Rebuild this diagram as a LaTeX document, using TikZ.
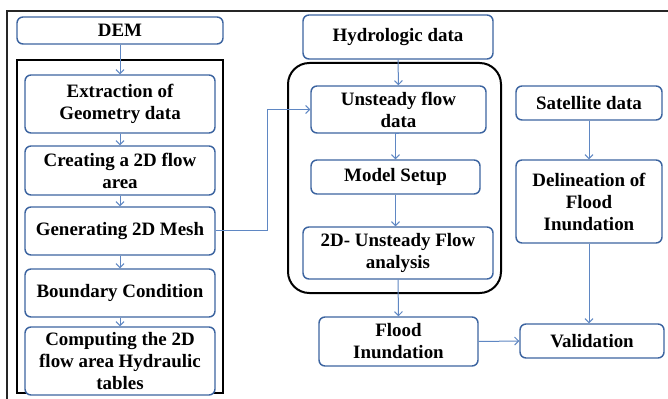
\documentclass[tikz,border=0pt]{standalone}
\usepackage{fontspec}
\setmainfont{Liberation Serif}
\usetikzlibrary{arrows.meta}
\definecolor{boxblue}{RGB}{60,100,160}
\definecolor{arrblue}{RGB}{95,135,195}
\tikzset{
  box/.style={draw=boxblue, line width=1.1pt, rounded corners=4.5pt, fill=white,
    inner sep=0pt, align=center, font=\fontsize{14.2}{16.5}\selectfont\bfseries},
  conn/.style={draw=arrblue, line width=0.75pt, -{Straight Barb[length=3pt,width=6pt]}},
  frame/.style={draw=black, line width=1.5pt}
}
\begin{document}
\begin{tikzpicture}[x=0.75pt,y=-0.75pt]
\useasboundingbox (0,0) rectangle (668,399);
\fill[white] (0,0) rectangle (668,399);
% outer frame
\draw[black!85, line width=1pt] (7,400) -- (7,11) -- (669,11);
% group frames
\draw[frame] (17,60) rectangle (223,393);
\draw[frame, rounded corners=16pt] (288,63) rectangle (501,293);
% left column
\node[box, minimum width=154.5pt, minimum height=20.25pt] (dem) at (120,30.5) {DEM};
\node[box, minimum width=142.5pt, minimum height=43.5pt] (ext) at (120,104) {Extraction of\\Geometry data};
\node[box, minimum width=142.5pt, minimum height=36.75pt] (cre) at (120,170.5) {Creating a 2D flow\\area};
\node[box, minimum width=142.5pt, minimum height=36pt] (gen) at (120,231) {Generating 2D Mesh};
\node[box, minimum width=142.5pt, minimum height=36pt] (bnd) at (120,293) {Boundary Condition};
\node[box, minimum width=142.5pt, minimum height=51pt] (cmp) at (120,361) {Computing the 2D\\flow area Hydraulic\\tables};
% middle column
\node[box, minimum width=142.5pt, minimum height=33pt] (hyd) at (398,37) {Hydrologic data};
\node[box, minimum width=131.25pt, minimum height=35.25pt] (uns) at (398.5,109.5) {Unsteady flow\\data};
\node[box, minimum width=126.75pt, minimum height=25.5pt] (mod) at (395.5,177) {Model Setup};
\node[box, minimum width=142.5pt, minimum height=39pt] (ana) at (398,253) {2D- Unsteady Flow\\analysis};
\node[box, minimum width=119.25pt, minimum height=36.75pt] (fld) at (398.5,341.5) {Flood\\Inundation};
% right column
\node[box, minimum width=109.5pt, minimum height=25.5pt] (sat) at (589,103) {Satellite data};
\node[box, minimum width=109.5pt, minimum height=62.25pt] (del) at (589,201.5) {Delineation of\\Flood\\Inundation};
\node[box, minimum width=108pt, minimum height=25.5pt] (val) at (592,341) {Validation};
% connectors
\draw[conn] (dem.south) -- (ext.north);
\draw[conn] (ext.south) -- (cre.north);
\draw[conn] (cre.south) -- (gen.north);
\draw[conn] (gen.south) -- (bnd.north);
\draw[conn] (bnd.south) -- (cmp.north);
\coordinate (bend) at (267,231);
\draw[conn] (gen.east) -- (bend) |- (uns.west);
\draw[conn] (hyd.south) -- (uns.north);
\draw[conn] (uns.south) -- (mod.south |- uns.south) -- (mod.north);
\draw[conn] (mod.south) -- (ana.north -| mod.south);
\draw[conn] (ana.south) -- (fld.north);
\draw[conn] (fld.east) -- (val.west);
\draw[conn] (sat.south) -- (del.north);
\draw[conn] (del.south) -- (del.south |- val.north);
\end{tikzpicture}
\end{document}
